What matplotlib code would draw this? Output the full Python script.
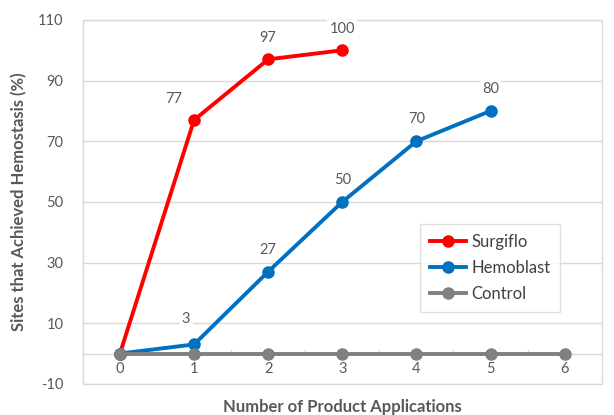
import numpy as np
import matplotlib.pyplot as plt
from matplotlib.patches import Rectangle

# Données
applications = [0, 1, 2, 3, 4, 5, 6]
surgiflo = [0, 77, 97, 100]
hemoblast = [0, 3, 27, 50, 70, 80]
control = [0, 0, 0, 0, 0, 0, 0]
y_ticks = [-10, 10, 30, 50, 70, 90, 110]

plt.rcParams['font.family'] = ['Lato', 'DejaVu Sans']
text_col = '#595959'
grid_col = '#D9D9D9'

fig = plt.figure(figsize=(6.14, 4.15), dpi=100)
ax = fig.add_axes([0.135, 0.075, 0.845, 0.877])
ax.set_xlim(-0.5, 6.5)
ax.set_ylim(-10, 110)

# Grille horizontale et cadre
for v in y_ticks:
    ax.axhline(v, color=grid_col, lw=1, zorder=0)
ax.add_patch(Rectangle((0, 0), 1, 1, transform=ax.transAxes, fill=False,
                       ec=grid_col, lw=1, clip_on=False, zorder=0))
ax.axhline(0, color=grid_col, lw=1, zorder=0)
for s in ax.spines.values():
    s.set_visible(False)

# Courbes (ordre Excel : la dernière série est dessus)
ax.plot(applications[:len(surgiflo)], surgiflo, color='#FF0000', lw=2.8, marker='o', ms=8,
        label='Surgiflo', zorder=3)
ax.plot(applications[:len(hemoblast)], hemoblast, color='#0070C0', lw=2.8, marker='o', ms=8,
        label='Hemoblast', zorder=4)
ax.plot(applications, control, color='#808080', lw=2.8, marker='o', ms=8, label='Control', zorder=5)

# Étiquettes de données
box = dict(boxstyle='square,pad=0.15', fc='white', ec='none')
for i, v in enumerate(surgiflo[1:], start=1):
    dx = -20 if i == 1 else 0
    ax.annotate(str(v), (applications[i], v), xytext=(dx, 21), textcoords='offset pixels',
                ha='center', va='center', fontsize=10.5, color=text_col, bbox=box, zorder=6)
for i, v in enumerate(hemoblast[1:], start=1):
    dx, dy = (-8, 25) if i == 1 else (0, 22)
    ax.annotate(str(v), (applications[i], v), xytext=(dx, dy), textcoords='offset pixels',
                ha='center', va='center', fontsize=10.5, color=text_col, bbox=box, zorder=6)

# Axes
ax.set_yticks(y_ticks)
ax.set_yticklabels([str(v) for v in y_ticks], fontsize=10.5, color=text_col)
ax.tick_params(axis='y', length=0, pad=14)
ax.set_xticks([])
for x in applications:
    ax.text(x, -5, str(x), ha='center', va='center', fontsize=10.5, color=text_col)
for x in np.arange(0.5, 6.5, 1):
    ax.plot([x, x], [0, 1.3], color=grid_col, lw=1, zorder=1)

ax.set_ylabel('Sites that Achieved Hemostasis (%)', fontsize=12, color=text_col,
              fontweight='bold', labelpad=8)
ax.set_xlabel('Number of Product Applications', fontsize=12, color=text_col,
              fontweight='bold', labelpad=11)

leg = ax.legend(loc='upper left', bbox_to_anchor=(0.649, 0.44),
                borderaxespad=0, fontsize=12, frameon=True, fancybox=False, edgecolor=grid_col,
                handlelength=2.2, handletextpad=0.3, labelspacing=0.6, borderpad=0.6)
for t in leg.get_texts():
    t.set_color('#404040')

fig.savefig('out.png', dpi=100)
